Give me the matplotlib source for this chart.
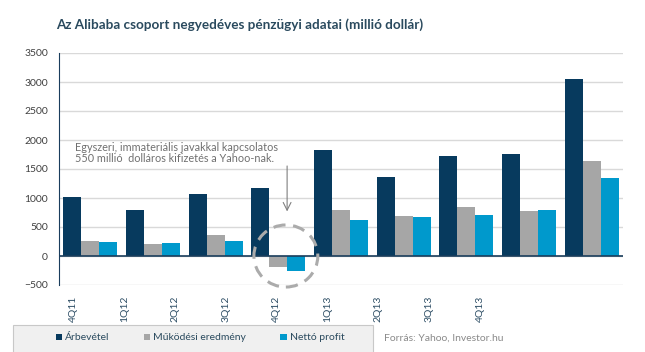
"""Az Alibaba csoport negyedéves pénzügyi adatai"""

import numpy as np
import matplotlib.pyplot as plt
from matplotlib.patches import Ellipse, Rectangle

quarters = ["4Q11", "1Q12", "2Q12", "3Q12", "4Q12", "1Q13", "2Q13", "3Q13", "4Q13"]
arbevetel = [1022, 793, 1069, 1172, 1827, 1362, 1724, 1758, 3060]
mukodesi = [259, 207, 362, -184, 793, 690, 845, 776, 1638]
netto = [247, 224, 259, -253, 621, 672, 707, 793, 1345]

series_names = ["Árbevétel", "Működési eredmény", "Nettó profit"]
colors = ["#073a5e", "#a6a6a6", "#0099cc"]

plt.rcParams["font.family"] = ["Lato", "DejaVu Sans"]

fig = plt.figure(figsize=(6.45, 3.52), dpi=100)
ax = fig.add_axes([59 / 645, 67 / 352, 564 / 645, 232 / 352])

x = np.arange(len(quarters))
width = 0.287
bars = []
for i, (vals, col, name) in enumerate(zip([arbevetel, mukodesi, netto], colors, series_names)):
    b = ax.bar(x + (i - 1) * width, vals, width, color=col, label=name, zorder=3)
    bars.append(b)

ax.set_xlim(-0.5, len(quarters) - 0.5)
ax.set_ylim(-500, 3500)
ax.set_yticks(np.arange(-500, 3501, 500))
ax.grid(axis="y", color="#d9d9d9", linewidth=1, zorder=0)
ax.axhline(0, color="#1a3d5c", linewidth=1.2, zorder=4)

for side in ["top", "right", "bottom"]:
    ax.spines[side].set_visible(False)
ax.spines["left"].set_color("#1a3d5c")
ax.tick_params(axis="y", length=0, labelsize=7.5, labelcolor="#404040", pad=8)

# tick labels sit a bit left of the groups, like in the original
tick_pos = np.linspace(-0.27, 6.22, len(quarters))
ax.set_xticks(tick_pos)
ax.set_xticklabels(quarters, rotation=90, fontsize=7.5, color="#2f4f66")
ax.tick_params(axis="x", length=0, pad=8)

fig.text(240 / 645, 1 - 25 / 352, "Az Alibaba csoport negyedéves pénzügyi adatai (millió dollár)",
         ha="center", va="center", fontsize=9.7, fontweight="bold", color="#2a4a5e")

ax.annotate("", xy=(3.14, 720), xytext=(3.14, 1600),
            arrowprops=dict(arrowstyle="->", color="#808080", lw=0.8, mutation_scale=14))
ax.text(-0.24, 1590, "Egyszeri, immateriális javakkal kapcsolatos\n550 millió  dolláros kifizetés a Yahoo-nak.",
        fontsize=7.8, color="#707070", ha="left", va="bottom", linespacing=1.0)
ax.add_patch(Ellipse((3.12, 0), 1.02, 1070, fill=False, edgecolor="#ababab",
                     linestyle=(0, (4, 2.5)), linewidth=2.2, zorder=5, clip_on=False))

# legend box
fig.add_artist(Rectangle((13 / 645, -0.01), 360 / 645, 27 / 352 + 0.01, transform=fig.transFigure,
                         facecolor="#f0f0f0", edgecolor="#c8c8c8", linewidth=0.8))
leg = fig.legend(handles=bars, labels=series_names, ncol=3, loc="center",
                 bbox_to_anchor=(200 / 645, 1 - 338 / 352),
                 fontsize=7.5, frameon=False, handlelength=0.6, columnspacing=3.3,
                 handleheight=0.6, handletextpad=0.3, borderpad=0.0)
for t in leg.get_texts():
    t.set_color("#2a4a5e")

fig.text(503 / 645, 1 - 338 / 352, "Forrás: Yahoo, Investor.hu", ha="right", va="center",
         fontsize=7.5, color="#8a8a8a")

fig.savefig("out.png", dpi=100)
